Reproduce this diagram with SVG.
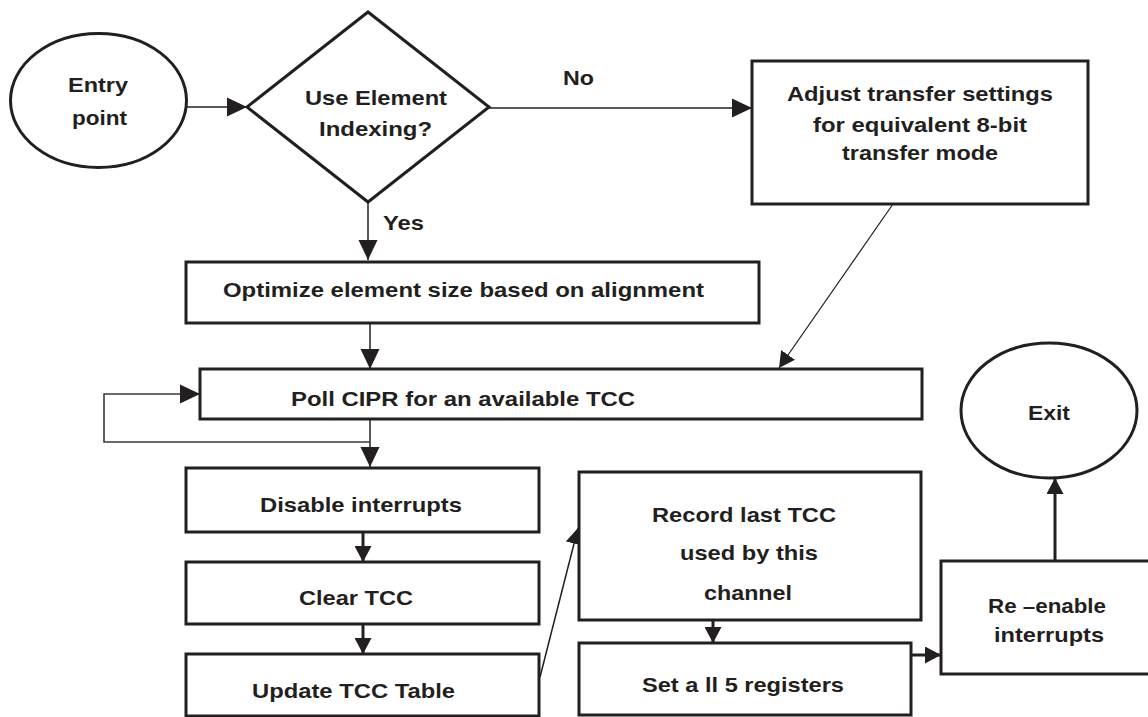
<svg xmlns="http://www.w3.org/2000/svg" width="1148" height="717" viewBox="0 0 1148 717">
  <defs>
    <style>
      .shape { fill: #ffffff; stroke: #231f20; stroke-width: 3; }
      .lbl { font-family: "Liberation Sans", Arial, sans-serif; font-weight: bold; font-size: 21px; fill: #231f20; }
      .mid { text-anchor: middle; }
      .thin { fill: none; stroke: #231f20; stroke-width: 1.5; }
      .hair { fill: none; stroke: #231f20; stroke-width: 1.2; }
      .loop { fill: none; stroke: #3a3a3a; stroke-width: 1.6; }
      .thick { fill: none; stroke: #231f20; stroke-width: 3; }
    </style>
    <marker id="head-lg" markerUnits="userSpaceOnUse" markerWidth="20" markerHeight="20" viewBox="0 0 20 20" refX="20" refY="10" orient="auto">
      <path d="M0,0.5 L20,10 L0,19.5 Z" fill="#231f20"/>
    </marker>
    <marker id="head-sm" markerUnits="userSpaceOnUse" markerWidth="16" markerHeight="17" viewBox="0 0 16 17" refX="16" refY="8.5" orient="auto">
      <path d="M0,0 L16,8.5 L0,17 Z" fill="#231f20"/>
    </marker>
  </defs>

  <rect width="1148" height="717" fill="#ffffff"/>

  <!-- connectors -->
  <g id="connectors">
    <path class="thin" d="M187,107 L247,107" marker-end="url(#head-lg)"/>
    <path class="thin" d="M489,108 L752,108" marker-end="url(#head-lg)"/>
    <path class="thin" d="M368,202 L368,260" marker-end="url(#head-lg)"/>
    <path class="hair" d="M893,204 L779,368" marker-end="url(#head-sm)"/>
    <path class="thin" d="M370,323 L370,369" marker-end="url(#head-lg)"/>
    <path class="thin" d="M370,419 L370,467" marker-end="url(#head-lg)"/>
    <path class="loop" d="M370,442 L104,442 L104,394 L200,394" marker-end="url(#head-lg)"/>
    <path class="thick" d="M363,532 L363,562" marker-end="url(#head-sm)"/>
    <path class="thick" d="M363,624 L363,654" marker-end="url(#head-sm)"/>
    <path class="thin" d="M540,677 L578,528" marker-end="url(#head-sm)"/>
    <path class="thick" d="M713,620 L713,643" marker-end="url(#head-sm)"/>
    <path class="thick" d="M911,655 L941,655" marker-end="url(#head-sm)"/>
    <path class="thick" d="M1055,561 L1055,478" marker-end="url(#head-sm)"/>
  </g>

  <!-- edge labels -->
  <g id="edge-labels">
    <text class="lbl mid" x="578.5" y="85" textLength="31" lengthAdjust="spacingAndGlyphs">No</text>
    <text class="lbl" x="383" y="230" textLength="41" lengthAdjust="spacingAndGlyphs">Yes</text>
  </g>

  <g id="entry">
    <ellipse class="shape" cx="98.5" cy="100.5" rx="88" ry="67"/>
    <text class="lbl mid" x="98" y="92" textLength="60" lengthAdjust="spacingAndGlyphs">Entry</text>
    <text class="lbl mid" x="99.5" y="125" textLength="55" lengthAdjust="spacingAndGlyphs">point</text>
  </g>

  <g id="decision">
    <polygon class="shape" points="368,12 489,107 368,202 247,107"/>
    <text class="lbl mid" x="376" y="105" textLength="142" lengthAdjust="spacingAndGlyphs">Use Element</text>
    <text class="lbl mid" x="375.5" y="136" textLength="113" lengthAdjust="spacingAndGlyphs">Indexing?</text>
  </g>

  <g id="adjust">
    <rect class="shape" x="752" y="61" width="336" height="143"/>
    <text class="lbl mid" x="920" y="101" textLength="266" lengthAdjust="spacingAndGlyphs">Adjust transfer settings</text>
    <text class="lbl mid" x="920" y="132" textLength="214" lengthAdjust="spacingAndGlyphs">for equivalent 8-bit</text>
    <text class="lbl mid" x="920" y="160" textLength="156" lengthAdjust="spacingAndGlyphs">transfer mode</text>
  </g>

  <g id="optimize">
    <rect class="shape" x="186" y="262" width="573" height="61"/>
    <text class="lbl mid" x="463.5" y="297" textLength="481" lengthAdjust="spacingAndGlyphs">Optimize element size based on alignment</text>
  </g>

  <g id="poll">
    <rect class="shape" x="200" y="369" width="722" height="50"/>
    <text class="lbl mid" x="463" y="406" textLength="344" lengthAdjust="spacingAndGlyphs">Poll CIPR for an available TCC</text>
  </g>

  <g id="disable">
    <rect class="shape" x="186" y="468" width="353" height="64"/>
    <text class="lbl mid" x="361" y="512" textLength="202" lengthAdjust="spacingAndGlyphs">Disable interrupts</text>
  </g>

  <g id="clear">
    <rect class="shape" x="186" y="562" width="353" height="62"/>
    <text class="lbl mid" x="356" y="605" textLength="114" lengthAdjust="spacingAndGlyphs">Clear TCC</text>
  </g>

  <g id="update">
    <rect class="shape" x="186" y="654" width="353" height="62"/>
    <text class="lbl mid" x="353.5" y="698" textLength="203" lengthAdjust="spacingAndGlyphs">Update TCC Table</text>
  </g>

  <g id="record">
    <rect class="shape" x="579" y="472" width="342" height="148"/>
    <text class="lbl mid" x="744" y="522" textLength="184" lengthAdjust="spacingAndGlyphs">Record last TCC</text>
    <text class="lbl mid" x="749" y="560" textLength="138" lengthAdjust="spacingAndGlyphs">used by this</text>
    <text class="lbl mid" x="748" y="600" textLength="88" lengthAdjust="spacingAndGlyphs">channel</text>
  </g>

  <g id="set-registers">
    <rect class="shape" x="579" y="643" width="332" height="72"/>
    <text class="lbl mid" x="743" y="692" textLength="202" lengthAdjust="spacingAndGlyphs">Set a ll 5 registers</text>
  </g>

  <g id="reenable">
    <rect class="shape" x="941" y="561" width="230" height="113"/>
    <text class="lbl mid" x="1047" y="613" textLength="118" lengthAdjust="spacingAndGlyphs">Re –enable</text>
    <text class="lbl mid" x="1049" y="642" textLength="110" lengthAdjust="spacingAndGlyphs">interrupts</text>
  </g>

  <g id="exit">
    <ellipse class="shape" cx="1049" cy="410.5" rx="88" ry="67.5"/>
    <text class="lbl mid" x="1049" y="420" textLength="42" lengthAdjust="spacingAndGlyphs">Exit</text>
  </g>
</svg>
